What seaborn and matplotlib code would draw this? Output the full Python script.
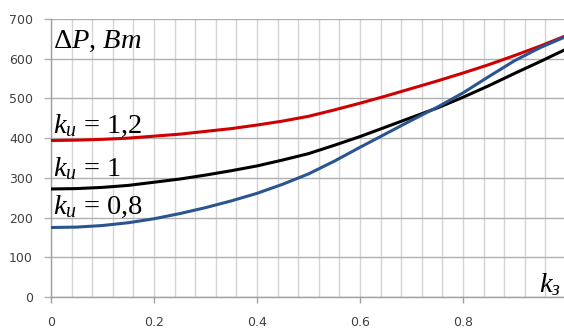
import matplotlib
matplotlib.use("Agg")
import matplotlib.pyplot as plt
import seaborn as sns
import pandas as pd
import numpy as np
from matplotlib.ticker import MultipleLocator

k_z = [0.0, 0.05, 0.1, 0.15, 0.2, 0.25, 0.3, 0.35, 0.4, 0.45, 0.5,
       0.55, 0.6, 0.65, 0.7, 0.75, 0.8, 0.85, 0.9, 0.95, 1.0]
p_12 = [394, 395, 397, 400, 405, 410, 417, 424, 433, 443, 455,
        471, 488, 506, 525, 544, 564, 585, 608, 632, 658]
p_10 = [272, 273, 276, 281, 289, 297, 307, 318, 330, 345, 361,
        382, 404, 428, 452, 476, 503, 532, 563, 593, 624]
p_08 = [175, 176, 180, 187, 197, 210, 225, 242, 261, 284, 310,
        342, 377, 411, 445, 478, 514, 555, 595, 628, 656]
series_names = ["1,2", "1", "0,8"]
x_ticks = [0, 0.2, 0.4, 0.6, 0.8]
x_tick_labels = ["0", "0.2", "0.4", "0.6", "0.8"]
y_ticks = [0, 100, 200, 300, 400, 500, 600, 700]

df = pd.DataFrame({
    "k": k_z * 3,
    "P": p_12 + p_10 + p_08,
    "s": [series_names[0]] * len(k_z) + [series_names[1]] * len(k_z) + [series_names[2]] * len(k_z),
})

sns.set_theme(style="white")
plt.rcParams['mathtext.fontset'] = 'custom'
plt.rcParams['mathtext.rm'] = 'Liberation Serif'
plt.rcParams['mathtext.it'] = 'Liberation Serif:italic'
plt.rcParams['font.family'] = ['DejaVu Sans']

fig = plt.figure(figsize=(5.64, 3.29), dpi=100)
ax = fig.add_axes([51 / 564, (329 - 297) / 329, 1 - 51 / 564, (297 - 19) / 329])

palette = {"1,2": "#d00000", "1": "#000000", "0,8": "#2b5590"}
sns.lineplot(data=df, x="k", y="P", hue="s", palette=palette, ax=ax,
             linewidth=2.2, legend=False, zorder=3)

ax.set_xlim(0, 0.996)
ax.set_ylim(0, 700)
ax.set_xticks(x_ticks)
ax.set_xticklabels(x_tick_labels)
ax.set_yticks(y_ticks)
ax.xaxis.set_minor_locator(MultipleLocator(0.04))
ax.grid(which="major", axis="y", color="#b0b0b0", linewidth=1.0)
ax.grid(which="both", axis="x", color="#d4d4d4", linewidth=1.0)
ax.set_axisbelow(True)
ax.tick_params(axis="x", which="major", length=4, width=1, color="#a0a0a0",
               pad=10, labelsize=9, labelcolor="#404040", direction="out", bottom=True)
ax.tick_params(axis="x", which="minor", length=0)
ax.tick_params(axis="y", length=5, width=1, color="#b0b0b0", pad=8,
               labelsize=9, labelcolor="#404040", direction="out", left=True)
for s in ["top", "right"]:
    ax.spines[s].set_visible(False)
for s in ["left", "bottom"]:
    ax.spines[s].set_color("#a0a0a0")
    ax.spines[s].set_linewidth(1.0)
ax.set_xlabel("")
ax.set_ylabel("")

tfont = dict(family="Liberation Serif", fontsize=20.5, color="black")
ax.text(0.004, 627, r"$\Delta P$, $Вт$", va="baseline", ha="left", **tfont)
ax.text(0.004, 413, r"$k_{и}$ = 1,2", va="baseline", ha="left", **tfont)
ax.text(0.004, 305, r"$k_{и}$ = 1", va="baseline", ha="left", **tfont)
ax.text(0.004, 209, r"$k_{и}$ = 0,8", va="baseline", ha="left", **tfont)
ax.text(0.948, 13, r"$k_{з}$", va="baseline", ha="left", **tfont)

fig.savefig("out.png", dpi=100)
